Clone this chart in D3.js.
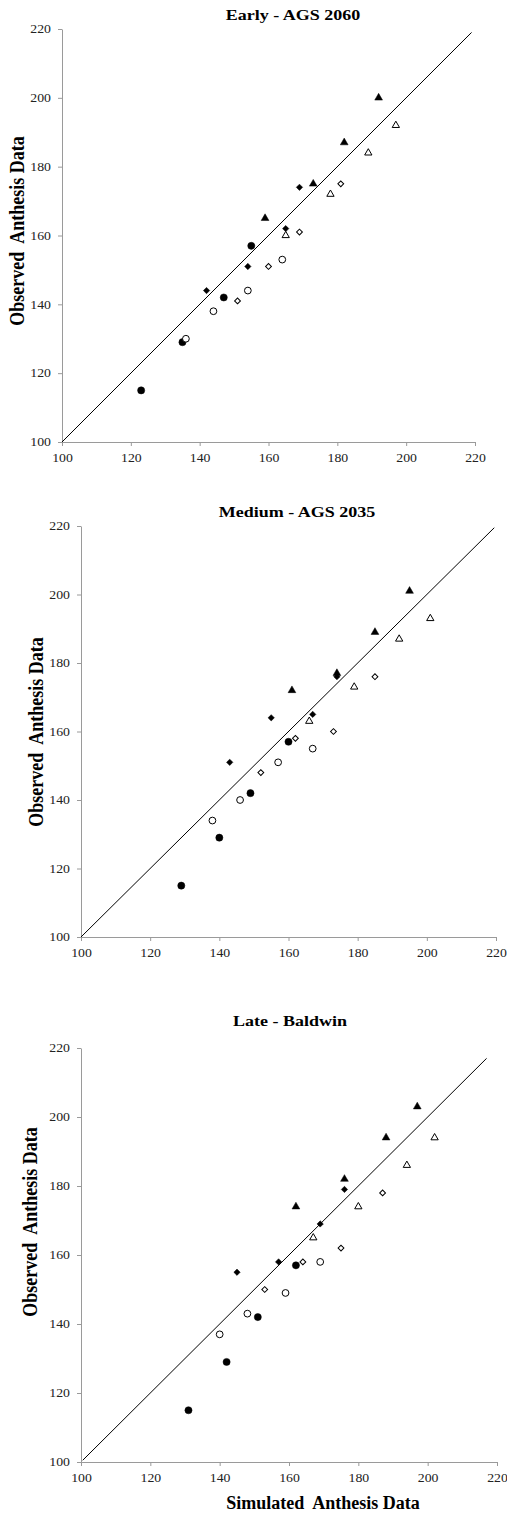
<!DOCTYPE html>
<html>
<head>
<meta charset="utf-8">
<script src="https://cdn.jsdelivr.net/npm/d3@7"></script>
<style>
  body { margin: 0; background: #fff; }
</style>
</head>
<body>
<svg id="chart" width="507" height="1515"></svg>
<script>
// axis ticks shared by all panels
const axisTicks = [100, 120, 140, 160, 180, 200, 220];
const panelTitles = ["Early - AGS 2060", "Medium - AGS 2035", "Late - Baldwin"];
const lineEnds = [[100, 219], [100, 219.5], [100.5, 217]];

// [simulated, observed] pairs
const early_fCircle  = [[123, 115], [135, 129], [147, 142], [155, 157]];
const early_oCircle  = [[136, 130], [144, 138], [154, 144], [164, 153]];
const early_fDiamond = [[142, 144], [154, 151], [165, 162], [169, 174]];
const early_oDiamond = [[151, 141], [160, 151], [169, 161], [181, 175]];
const early_fTri     = [[159, 165], [173, 175], [182, 187], [192, 200]];
const early_oTri     = [[165, 160], [178, 172], [189, 184], [197, 192]];

const medium_fCircle  = [[129, 115], [140, 129], [149, 142], [160, 157]];
const medium_oCircle  = [[138, 134], [146, 140], [157, 151], [167, 155]];
const medium_fDiamond = [[143, 151], [155, 164], [167, 165], [174, 176]];
const medium_oDiamond = [[152, 148], [162, 158], [173, 160], [185, 176]];
const medium_fTri     = [[161, 172], [174, 177], [185, 189], [195, 201]];
const medium_oTri     = [[166, 163], [179, 173], [192, 187], [201, 193]];

const late_fCircle  = [[131, 115], [142, 129], [151, 142], [162, 157]];
const late_oCircle  = [[140, 137], [148, 143], [159, 149], [169, 158]];
const late_fDiamond = [[145, 155], [157, 158], [169, 169], [176, 179]];
const late_oDiamond = [[153, 150], [164, 158], [175, 162], [187, 178]];
const late_fTri     = [[162, 174], [176, 182], [188, 194], [197, 203]];
const late_oTri     = [[167, 165], [180, 174], [194, 186], [202, 194]];

const panelData = [
  [early_fCircle, early_oCircle, early_fDiamond, early_oDiamond, early_fTri, early_oTri],
  [medium_fCircle, medium_oCircle, medium_fDiamond, medium_oDiamond, medium_fTri, medium_oTri],
  [late_fCircle, late_oCircle, late_fDiamond, late_oDiamond, late_fTri, late_oTri]
];

// marker style per series index (same order in every panel)
const markerStyle = [
  {type: d3.symbolCircle,   size: 40, filled: true,  rot: 0},
  {type: d3.symbolCircle,   size: 36, filled: false, rot: 0},
  {type: d3.symbolSquare,   size: 20, filled: true,  rot: 45},
  {type: d3.symbolSquare,   size: 17, filled: false, rot: 45},
  {type: d3.symbolTriangle, size: 26, filled: true,  rot: 0},
  {type: d3.symbolTriangle, size: 23, filled: false, rot: 0}
];

// layout of each panel, in page pixels
const layout = [
  {l: 62, r: 475, t: 29,   b: 442,  titleX: 293, titleY: 20,   ylabX: 24, ylabY: 231},
  {l: 81, r: 496, t: 526,  b: 937,  titleX: 297, titleY: 517,  ylabX: 43, ylabY: 732},
  {l: 81, r: 497, t: 1048, b: 1462, titleX: 290, titleY: 1026, ylabX: 37, ylabY: 1222}
];

const FONT = '"Liberation Serif", "Times New Roman", Times, serif';
const SX = 1.2; // the picture's text is stretched sideways
const svg = d3.select("#chart");

function stretchText(sel){
  sel.each(function(){
    var t = d3.select(this);
    var x = +t.attr("x") || 0;
    t.attr("transform", "translate(" + x + ",0) scale(" + SX + ",1) translate(" + (-x) + ",0)");
  });
}

panelData.forEach(function(series, p){
  var L = layout[p];
  var x = d3.scaleLinear().domain([100, 220]).range([L.l, L.r]);
  var y = d3.scaleLinear().domain([100, 220]).range([L.b, L.t]);

  var g = svg.append("g");

  // axes
  var xAxis = g.append("g").attr("transform", "translate(0," + L.b + ")")
      .call(d3.axisBottom(x).tickValues(axisTicks).tickSize(4).tickPadding(8).tickSizeOuter(0));
  var yAxis = g.append("g").attr("transform", "translate(" + L.l + ",0)")
      .call(d3.axisLeft(y).tickValues(axisTicks).tickSize(4).tickPadding(7).tickSizeOuter(0));

  [xAxis, yAxis].forEach(function(ax){
    ax.attr("font-family", FONT).attr("font-size", 11.5);
    ax.select(".domain").attr("stroke", "#9a9a9a").attr("stroke-width", 1);
    ax.selectAll(".tick line").attr("stroke", "#9a9a9a");
    ax.selectAll(".tick text").attr("fill", "#222");
    stretchText(ax.selectAll(".tick text"));
  });

  // 1:1 line
  var le = lineEnds[p];
  g.append("line")
    .attr("x1", x(le[0])).attr("y1", y(le[0]))
    .attr("x2", x(le[1])).attr("y2", y(le[1]))
    .attr("stroke", "#000").attr("stroke-width", 1);

  // markers
  series.forEach(function(pts, s){
    var st = markerStyle[s];
    var sym = d3.symbol().type(st.type).size(st.size);
    g.append("g").selectAll("path").data(pts).enter().append("path")
      .attr("d", sym)
      .attr("transform", function(d){ return "translate(" + x(d[0]) + "," + y(d[1]) + ") rotate(" + st.rot + ")"; })
      .attr("fill", st.filled ? "#000" : "#fff")
      .attr("stroke", "#000")
      .attr("stroke-width", st.filled ? 0.5 : 1);
  });

  // panel title
  g.append("text")
    .attr("transform", "translate(" + L.titleX + "," + L.titleY + ") scale(" + SX + ",1)")
    .attr("text-anchor", "middle")
    .attr("font-family", FONT).attr("font-size", 15).attr("font-weight", "bold")
    .text(panelTitles[p]);

  // y label
  g.append("text")
    .attr("transform", "translate(" + L.ylabX + "," + L.ylabY + ") scale(" + SX + ",1) rotate(-90)")
    .attr("text-anchor", "middle")
    .attr("font-family", FONT).attr("font-size", 18).attr("font-weight", "bold")
    .style("white-space", "pre")
    .text("Observed  Anthesis Data");

  // x label on the last panel only
  if(p === 2){
    g.append("text")
      .attr("transform", "translate(323,1509)")
      .attr("text-anchor", "middle")
      .attr("font-family", FONT).attr("font-size", 18).attr("font-weight", "bold")
      .style("white-space", "pre")
      .text("Simulated  Anthesis Data");
  }
});
</script>
</body>
</html>
